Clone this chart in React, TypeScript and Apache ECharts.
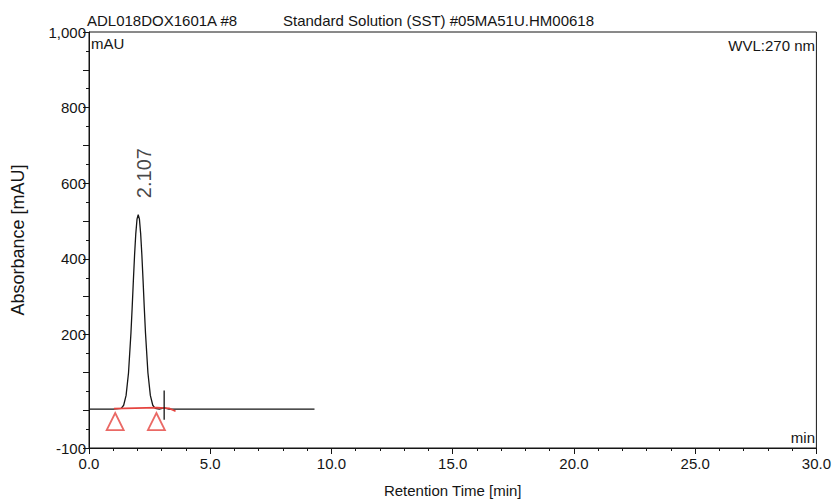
import React, { useEffect, useRef } from "react";
import * as echarts from "echarts";

const times = [0, 0.5, 1.0, 1.33, 1.43, 1.53, 1.63, 1.73, 1.78, 1.83, 1.88, 1.93, 1.98, 2.03, 2.08, 2.13, 2.18, 2.23, 2.28, 2.33, 2.43, 2.53, 2.63, 2.73, 2.9, 3.1, 3.3, 5.0, 7.0, 9.3];
const absorbance = [3, 3, 3, 5, 13, 39, 99, 204, 271, 343, 411, 467, 505, 517, 505, 467, 411, 343, 271, 204, 99, 39, 13, 5, 3, 6, 3, 3, 3, 3];
const peakTime = 2.03;
const peakValue = 517;
const peakLabel = "2.107";
const baselineTimes = [1.03, 2.8, 3.3, 3.57];
const baselineValues = [4, 7, 5, -3];
const markerTimes = [1.08, 2.78];
const markerValue = -30;
const eventTime = 3.1;
const eventRange = [-25, 52];
const yLabelValues = [-100, 200, 400, 600, 800, 1000];
const titleLeft = "ADL018DOX1601A #8";
const titleRight = "Standard Solution (SST) #05MA51U.HM00618";
const wvl = "WVL:270 nm";

const FONT = "'Liberation Sans', Arial, sans-serif";
const INK = "#151515";
const RED = "#e5443f";

export default function App() {
  const ref = useRef<HTMLDivElement>(null);
  useEffect(() => {
    const chart = echarts.init(ref.current!, null, { renderer: "svg" });
    chart.setOption({
      animation: false,
      textStyle: { fontFamily: FONT },
      grid: { left: 89, right: 15, top: 32, bottom: 51, show: true, borderColor: INK, borderWidth: 1 },
      xAxis: {
        type: "value",
        min: 0,
        max: 30,
        interval: 5,
        name: "Retention Time [min]",
        nameLocation: "middle",
        nameGap: 35,
        nameTextStyle: { fontSize: 15, color: INK, fontFamily: FONT },
        axisLine: { show: true, onZero: false, lineStyle: { color: INK } },
        axisTick: { show: true, length: 6, lineStyle: { color: INK } },
        minorTick: { show: true, splitNumber: 5, length: 3, lineStyle: { color: INK } },
        axisLabel: { fontSize: 15, color: INK, margin: 8, fontFamily: FONT, formatter: (v: number) => v.toFixed(1) },
        splitLine: { show: false },
      },
      yAxis: {
        type: "value",
        min: -100,
        max: 1000,
        interval: 100,
        name: "Absorbance [mAU]",
        nameLocation: "middle",
        nameGap: 62,
        nameTextStyle: { fontSize: 18, color: INK, fontFamily: FONT },
        axisLine: { show: true, onZero: false, lineStyle: { color: INK } },
        axisTick: { show: true, length: 6, lineStyle: { color: INK } },
        minorTick: { show: true, splitNumber: 2, length: 3, lineStyle: { color: INK } },
        axisLabel: {
          fontSize: 15,
          color: INK,
          margin: 3,
          fontFamily: FONT,
          showMinLabel: true,
          showMaxLabel: true,
          formatter: (v: number) => (yLabelValues.includes(v) ? (v === 1000 ? "1,000" : String(v)) : ""),
        },
        splitLine: { show: false },
      },
      series: [
        {
          type: "line",
          data: times.map((t, i) => [t, absorbance[i]]),
          showSymbol: false,
          symbol: "none",
          lineStyle: { color: INK, width: 1.3 },
          z: 3,
        },
        {
          type: "line",
          data: baselineTimes.map((t, i) => [t, baselineValues[i]]),
          symbol: "none",
          lineStyle: { color: RED, width: 1.7 },
          z: 4,
        },
        {
          type: "line",
          data: [[eventTime, eventRange[0]], [eventTime, eventRange[1]]],
          symbol: "none",
          lineStyle: { color: INK, width: 1.3 },
          z: 4,
        },
        {
          type: "scatter",
          data: markerTimes.map((t) => [t, markerValue]),
          symbol: "triangle",
          symbolSize: [17, 17],
          itemStyle: { color: "rgba(0,0,0,0)", borderColor: RED, borderWidth: 1.8 },
          z: 5,
        },
        {
          type: "scatter",
          data: [[peakTime, peakValue]],
          symbolSize: 1,
          itemStyle: { color: "rgba(0,0,0,0)" },
          label: {
            show: true,
            formatter: peakLabel,
            position: "top",
            rotate: 90,
            align: "left",
            verticalAlign: "middle",
            distance: 12,
            offset: [4, 6],
            fontSize: 20,
            fontFamily: FONT,
            color: INK,
          },
          z: 6,
        },
      ],
      graphic: [
        { type: "text", left: 87, top: 13, style: { text: titleLeft, fontSize: 15, fontFamily: FONT, fill: INK } },
        { type: "text", left: 283, top: 13, style: { text: titleRight, fontSize: 15, fontFamily: FONT, fill: INK } },
        { type: "text", left: 91, top: 36, style: { text: "mAU", fontSize: 15, fontFamily: FONT, fill: INK } },
        { type: "text", right: 19, top: 38, style: { text: wvl, fontSize: 15, fontFamily: FONT, fill: INK } },
        { type: "text", right: 19, top: 430, style: { text: "min", fontSize: 15, fontFamily: FONT, fill: INK } },
      ],
    });
    return () => chart.dispose();
  }, []);
  return <div ref={ref} style={{ width: 834, height: 503, position: "absolute", left: 0, top: 0 }} />;
}
